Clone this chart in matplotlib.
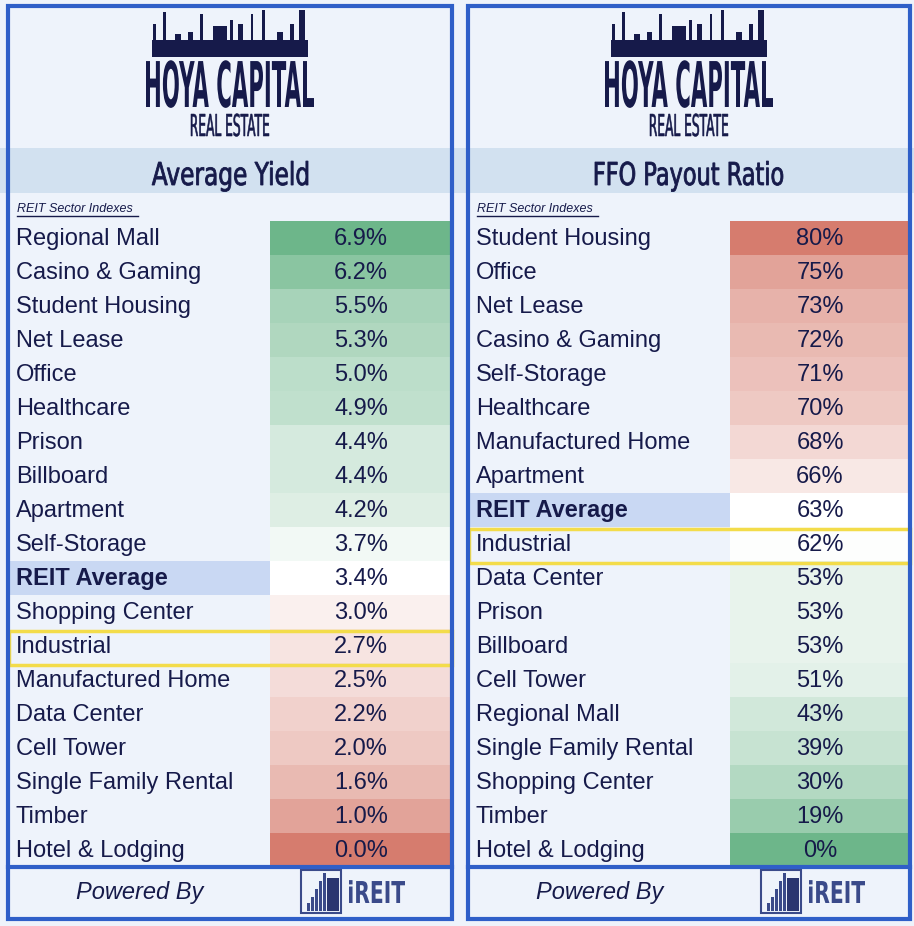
import matplotlib.pyplot as plt
from matplotlib.patches import Rectangle, PathPatch
from matplotlib.textpath import TextPath
from matplotlib.font_manager import FontProperties
from matplotlib.transforms import Affine2D
from matplotlib.colors import to_rgb
import numpy as np

plt.rcParams["font.family"] = "Liberation Sans"

# data
yield_sectors = ["Regional Mall", "Casino & Gaming", "Student Housing", "Net Lease", "Office",
                 "Healthcare", "Prison", "Billboard", "Apartment", "Self-Storage", "REIT Average",
                 "Shopping Center", "Industrial", "Manufactured Home", "Data Center", "Cell Tower",
                 "Single Family Rental", "Timber", "Hotel & Lodging"]
yield_values = [6.9, 6.2, 5.5, 5.3, 5.0, 4.9, 4.4, 4.4, 4.2, 3.7, 3.4, 3.0, 2.7, 2.5, 2.2, 2.0, 1.6, 1.0, 0.0]

payout_sectors = ["Student Housing", "Office", "Net Lease", "Casino & Gaming", "Self-Storage",
                  "Healthcare", "Manufactured Home", "Apartment", "REIT Average", "Industrial",
                  "Data Center", "Prison", "Billboard", "Cell Tower", "Regional Mall",
                  "Single Family Rental", "Shopping Center", "Timber", "Hotel & Lodging"]
payout_values = [80, 75, 73, 72, 71, 70, 68, 66, 63, 62, 53, 53, 53, 51, 43, 39, 30, 19, 0]

BG = "#eef3fb"
NAVY = "#161a4a"
BLUE = "#2f5fc8"
GREEN = "#6db68a"
RED = "#d67c6e"

fig = plt.figure(figsize=(9.14, 9.26), dpi=100, facecolor=BG)
ax = fig.add_axes([0, 0, 1, 1])
ax.set_xlim(0, 914)
ax.set_ylim(926, 0)
ax.axis("off")

def narrow_text(x, ybase, s, height, width, weight="normal", color=NAVY, ha="center", lw=0):
    # text drawn as a path, squeezed to a given width; height = cap height in px
    tp = TextPath((0, 0), s, size=100, prop=FontProperties(family="DejaVu Sans", weight=weight))
    ext = tp.get_extents()
    k = height / 73.0
    sx = width / (ext.x1 - ext.x0)
    x0 = x - width / 2 if ha == "center" else x
    tr = Affine2D().translate(-ext.x0, 0).scale(sx, -k).translate(x0, ybase)
    ax.add_patch(PathPatch(tr.transform_path(tp), fc=color, ec=color, lw=lw))

def cell_color(v, avg, lo, hi, high_good):
    if (v >= avg) == high_good:
        end = GREEN
        t = (v - avg) / (hi - avg) if high_good else (avg - v) / (avg - lo)
    else:
        end = RED
        t = (avg - v) / (avg - lo) if high_good else (v - avg) / (hi - avg)
    t = min(max(t, 0), 1)
    w = np.array([1.0, 1.0, 1.0])
    return tuple(w + (np.array(to_rgb(end)) - w) * t)

def logo(cx):
    ax.add_patch(Rectangle((cx - 78, 40), 156, 17, color=NAVY, lw=0))
    for dx, h, w in [(-76, 16, 3), (-66, 28, 3), (-52, 6, 6), (-40, 8, 5), (-29, 26, 3),
                     (-10, 14, 14), (1, 20, 3), (10, 16, 5), (22, 26, 2), (33, 30, 3),
                     (50, 8, 6), (62, 16, 4), (72, 30, 6)]:
        ax.add_patch(Rectangle((cx + dx - w / 2, 40 - h), w, h, color=NAVY, lw=0))
    narrow_text(cx, 107, "HOYA CAPITAL", 46, 168, weight="bold")
    narrow_text(cx, 136, "REAL ESTATE", 22, 78, lw=0.4)

def panel(x0, x1, xv, title, sectors, values, fmt, high_good, hl_row):
    avg = values[sectors.index("REIT Average")]
    lo, hi = min(values), max(values)
    cx = (x0 + x1) / 2
    logo(cx)
    ax.add_patch(Rectangle((x0 - 8, 148), x1 - x0 + 16, 45, color="#d2e1f0", lw=0))
    narrow_text(cx, 185, title, 23, 156 if len(title) < 15 else 188, lw=0.6)
    ax.text(x0 + 9, 209, "REIT Sector Indexes", ha="left", va="center", fontsize=9,
            style="italic", color=NAVY)
    ax.plot([x0 + 9, x0 + 130], [216, 216], color=NAVY, lw=1)
    top, rh = 221, 34
    for i, (s, v) in enumerate(zip(sectors, values)):
        y = top + i * rh
        ax.add_patch(Rectangle((xv, y), x1 - xv, rh,
                               color=cell_color(v, avg, lo, hi, high_good), lw=0))
        bold = s == "REIT Average"
        if bold:
            ax.add_patch(Rectangle((x0 + 2, y), xv - x0 - 2, rh, color="#c9d8f3", lw=0))
        ax.text(x0 + 8, y + rh / 2 + 1, s, ha="left", va="center", fontsize=17, color=NAVY,
                weight="bold" if bold else "normal")
        ax.text((xv + x1) / 2, y + rh / 2 + 1, fmt.format(v), ha="center", va="center",
                fontsize=17, color=NAVY)
    yb = top + len(sectors) * rh
    yh = top + hl_row * rh
    ax.add_patch(Rectangle((x0 + 1, yh + 2), x1 - x0 - 1, rh, fill=False, ec="#f3dc4a",
                           lw=2.5, zorder=5))
    ax.add_patch(Rectangle((x0, 6), x1 - x0, 913, fill=False, ec=BLUE, lw=3, zorder=6))
    ax.plot([x0, x1], [yb, yb], color=BLUE, lw=3, zorder=6)
    ax.text(x0 + 132, 893, "Powered By", ha="center", va="center", fontsize=17,
            style="italic", color=NAVY)
    lx = x0 + 293
    ax.add_patch(Rectangle((lx, 870), 40, 43, fill=False, ec="#3a4a8a", lw=1.5))
    for k, hgt in enumerate([8, 14, 22, 30, 38]):
        ax.add_patch(Rectangle((lx + 6 + k * 4, 911 - hgt), 2.5, hgt, color="#3a4a8a", lw=0))
    ax.add_patch(Rectangle((lx + 26, 878), 12, 33, color="#2a3570", lw=0))
    narrow_text(lx + 48, 903, "iREIT", 22, 56, weight="bold", color="#3a4a8a", ha="left")

panel(8, 452, 270, "Average Yield", yield_sectors, yield_values, "{:.1f}%", True, 12)
panel(468, 910, 730, "FFO Payout Ratio", payout_sectors, payout_values, "{:d}%", False, 9)

fig.savefig("out.png", dpi=100, facecolor=BG)
